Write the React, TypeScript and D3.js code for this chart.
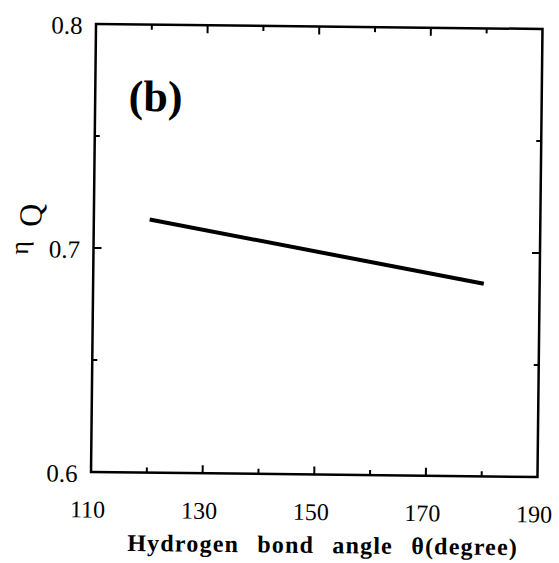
import React from 'react';
import * as d3 from 'd3';

// values
const angles = [120, 180];
const etaQ = [0.713, 0.686];
const xTickLabels = [110, 130, 150, 170, 190];
const xTicksAll = [110, 120, 130, 140, 150, 160, 170, 180, 190];
const yTickLabels = [0.6, 0.7, 0.8];
const yTicksAll = [0.6, 0.65, 0.7, 0.75, 0.8];

const W = 559;
const H = 563;
const font = "'Times New Roman', Times, 'Liberation Serif', serif";

export default function App() {
  const x = d3.scaleLinear().domain([110, 190]).range([93.5, 540]);
  const y = d3.scaleLinear().domain([0.6, 0.8]).range([474.5, 26.5]);

  const pts: [number, number][] = angles.map((a, i) => [a, etaQ[i]]);
  const line = d3.line<[number, number]>()
    .x((d) => x(d[0]))
    .y((d) => y(d[1]));

  const isMajorX = (v: number) => (v - 110) % 20 === 0;
  const isMajorY = (v: number) => Math.abs(Math.round(v * 10) - v * 10) < 1e-6;

  // the scanned figure is slightly tilted
  const tilt = 'rotate(0.64 317 250.5)';

  return (
    <svg width={W} height={H} style={{ position: 'absolute', left: 0, top: 0, background: '#fff' }}>
      <rect x={0} y={0} width={W} height={H} fill="#fff" />

      <g transform={tilt}>
        {/* frame */}
        <rect x={x(110)} y={y(0.8)} width={x(190) - x(110)} height={y(0.6) - y(0.8)}
          fill="none" stroke="#000" strokeWidth={2.5} />

        {/* x ticks, bottom and top, pointing inward */}
        {xTicksAll.slice(1, -1).map((v) => {
          const len = isMajorX(v) ? 8 : 5;
          return (
            <g key={'xt' + v}>
              <line x1={x(v)} x2={x(v)} y1={y(0.6)} y2={y(0.6) - len} stroke="#000" strokeWidth={2} />
              <line x1={x(v)} x2={x(v)} y1={y(0.8)} y2={y(0.8) + len} stroke="#000" strokeWidth={2} />
            </g>
          );
        })}

        {/* y ticks, left and right */}
        {yTicksAll.slice(1, -1).map((v) => {
          const len = isMajorY(v) ? 8 : 5;
          return (
            <g key={'yt' + v}>
              <line x1={x(110)} x2={x(110) + len} y1={y(v)} y2={y(v)} stroke="#000" strokeWidth={2} />
              <line x1={x(190)} x2={x(190) - len} y1={y(v)} y2={y(v)} stroke="#000" strokeWidth={2} />
            </g>
          );
        })}

        {/* tick labels */}
        {xTickLabels.map((v) => (
          <text key={'xl' + v} x={x(v) - 3} y={520} textAnchor="middle"
            fontFamily={font} fontSize={24} fill="#000">{v}</text>
        ))}
        {yTickLabels.map((v) => (
          <text key={'yl' + v} x={80} y={y(v) + 10} textAnchor="end"
            fontFamily={font} fontSize={25} fill="#000">{v.toFixed(1)}</text>
        ))}

        {/* data line */}
        <path d={line(pts) || ''} fill="none" stroke="#000" strokeWidth={4} />

        {/* panel label */}
        <text x={127} y={113} fontFamily={font} fontSize={44} fontWeight="bold" fill="#000">(b)</text>

        {/* axis titles */}
        <text x={326} y={553} textAnchor="middle" fontFamily={font} fontSize={24}
          fontWeight="bold" letterSpacing={1.2} wordSpacing={11} fill="#000">
          Hydrogen bond angle θ(degree)
        </text>
        <text transform="translate(41,230) rotate(-90)" fontFamily={font} fontSize={32} fill="#000">Q</text>
        <text transform="translate(28,258) rotate(-90)" fontFamily={font} fontSize={26} fill="#000">η</text>
      </g>
    </svg>
  );
}
